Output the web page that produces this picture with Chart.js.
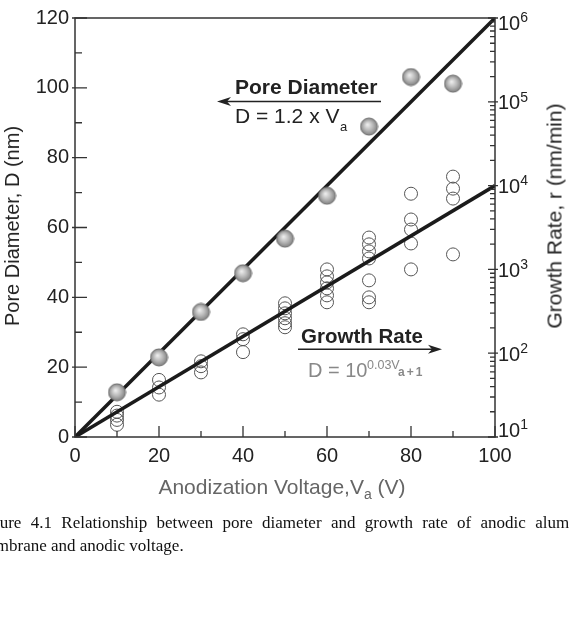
<!DOCTYPE html>
<html>
<head>
<meta charset="utf-8">
<script src="https://cdn.jsdelivr.net/npm/chart.js@4.4.0/dist/chart.umd.min.js"></script>
<style>
  body { margin: 0; background: #fff; width: 569px; height: 628px; overflow: hidden; position: relative;
         font-family: "Liberation Sans", Arial, sans-serif; color: #222; }
  #wrap { position: absolute; left: 0; top: 0; width: 569px; height: 500px; }
  .t { position: absolute; white-space: nowrap; line-height: 1; }
  .cap { position: absolute; white-space: nowrap; line-height: 1; font-family: "Liberation Serif", "Times New Roman", serif;
         font-size: 17px; color: #111; }
</style>
</head>
<body>
<div id="wrap"><canvas id="chart" width="569" height="500"></canvas></div>

<!-- axis titles -->
<div class="t" style="left:12px;top:226px;font-size:20px;transform:translate(-50%,-50%) rotate(-90deg);">Pore Diameter, D (nm)</div>
<div class="t" style="left:554px;top:216px;font-size:21px;transform:translate(-50%,-50%) rotate(-90deg);">Growth Rate, r (nm/min)</div>
<div class="t" style="left:282px;top:486px;font-size:21px;color:#666;transform:translate(-50%,-50%);">Anodization Voltage,V<span style="font-size:14px;position:relative;top:5px;">a</span> (V)</div>

<!-- annotations -->
<div class="t" style="left:235px;top:76px;font-size:21px;font-weight:bold;">Pore Diameter</div>
<div class="t" style="left:235px;top:105px;font-size:21px;">D = 1.2 x V</div>
<div class="t" style="left:340px;top:120px;font-size:13px;">a</div>
<div class="t" style="left:301px;top:326px;font-size:20.5px;font-weight:bold;">Growth Rate</div>
<div class="t" style="left:308px;top:360px;font-size:20px;color:#888;">D = 10</div>
<div class="t" style="left:367px;top:359px;font-size:12.5px;color:#888;">0.03V</div>
<div class="t" style="left:398px;top:366px;font-size:12px;color:#888;font-weight:bold;letter-spacing:2px;">a+1</div>
<svg style="position:absolute;left:0;top:0;" width="569" height="500">
  <g stroke="#222" stroke-width="1.6" fill="#222">
    <line x1="381" y1="101.5" x2="222" y2="101.5"/>
    <path d="M217 101.5 L231 97 L227 101.5 L231 106 Z" stroke="none"/>
    <line x1="298" y1="349.3" x2="437" y2="349.3"/>
    <path d="M442 349.3 L428 344.8 L432 349.3 L428 353.8 Z" stroke="none"/>
  </g>
</svg>

<!-- caption -->
<div class="cap" style="left:-23px;top:514px;width:613px;text-align:justify;text-align-last:justify;">Figure 4.1 Relationship between pore diameter and growth rate of anodic alumina</div>
<div class="cap" style="left:-25px;top:537px;">membrane and anodic voltage.</div>

<script>
// anodization voltage (V) and measured pore diameter (nm)
const volts = [10, 20, 30, 40, 50, 60, 70, 80, 90];
const poreDiameter = [12.8, 22.8, 35.8, 46.9, 56.8, 69.1, 88.9, 103.1, 101.2];

// growth rate samples (nm/min), one entry per open circle
const growthVolts = [10, 10, 10, 10,
                     20, 20, 20,
                     30, 30, 30,
                     40, 40, 40,
                     50, 50, 50, 50, 50, 50,
                     60, 60, 60, 60, 60, 60,
                     70, 70, 70, 70, 70, 70, 70,
                     80, 80, 80, 80, 80,
                     90, 90, 90, 90];
const growthRates = [20, 18, 16, 14,
                     48, 39, 32,
                     80, 70, 59,
                     168, 147, 103,
                     394, 343, 299, 261, 228, 204,
                     1000, 826, 700, 594, 490, 405,
                     2400, 1990, 1640, 1350, 740, 464, 405,
                     8000, 3940, 2990, 2040, 1000,
                     12800, 9200, 7000, 1510];

// fitted lines: D = 1.2 x Va and r = 10^(0.03Va + 1)
const fitVolts = [0, 100];
const fitDiameter = [0, 120];
const fitRate = [10, 10000];

// tick values
const xMajor = [0, 20, 40, 60, 80, 100];
const xMinor = [10, 30, 50, 70, 90];
const yMajor = [0, 20, 40, 60, 80, 100, 120];
const yMinor = [10, 30, 50, 70, 90, 110];
const rateDecades = [10, 100, 1000, 10000, 100000, 1000000];

const FONT = '"Liberation Sans", Arial, sans-serif';

// shaded sphere marker for the pore diameter points
const sphere = document.createElement('canvas');
sphere.width = 19; sphere.height = 19;
(function () {
  const c = sphere.getContext('2d');
  const g = c.createRadialGradient(8, 7.5, 0.5, 9.5, 9.5, 9);
  g.addColorStop(0, '#ececec');
  g.addColorStop(0.5, '#b8b8b8');
  g.addColorStop(1, '#7c7c7c');
  c.fillStyle = g;
  c.beginPath(); c.arc(9.5, 9.5, 8.5, 0, Math.PI * 2); c.fill();
  c.strokeStyle = '#6a6a6a'; c.lineWidth = 1; c.stroke();
})();

// frame, inward ticks and 10^n labels on the right axis
const framePlugin = {
  id: 'frame',
  afterDatasetsDraw(chart) {
    const { ctx, chartArea: a, scales: { x, y, y2 } } = chart;
    ctx.save();
    ctx.strokeStyle = '#333';
    ctx.lineWidth = 1.5;
    ctx.strokeRect(a.left, a.top, a.right - a.left, a.bottom - a.top);

    ctx.lineWidth = 1.3;
    ctx.beginPath();
    yMajor.forEach(v => { const p = y.getPixelForValue(v); ctx.moveTo(a.left - 3, p); ctx.lineTo(a.left + 12, p); });
    yMinor.forEach(v => { const p = y.getPixelForValue(v); ctx.moveTo(a.left, p); ctx.lineTo(a.left + 7, p); });
    xMajor.forEach(v => { const p = x.getPixelForValue(v); ctx.moveTo(p, a.bottom); ctx.lineTo(p, a.bottom - 11); });
    xMinor.forEach(v => { const p = x.getPixelForValue(v); ctx.moveTo(p, a.bottom); ctx.lineTo(p, a.bottom - 6); });
    rateDecades.forEach((d, i) => {
      const p = y2.getPixelForValue(d);
      ctx.moveTo(a.right + 3, p); ctx.lineTo(a.right - 7, p);
      if (i < rateDecades.length - 1) {
        for (let m = 2; m <= 9; m++) {
          const q = y2.getPixelForValue(d * m);
          ctx.moveTo(a.right, q); ctx.lineTo(a.right - 5, q);
        }
      }
    });
    ctx.stroke();

    ctx.fillStyle = '#222';
    ctx.textBaseline = 'middle';
    ctx.textAlign = 'left';
    rateDecades.forEach(d => {
      const p = y2.getPixelForValue(d);
      let cy = p + 2;
      if (d === rateDecades[rateDecades.length - 1]) cy = p + 6;
      if (d === rateDecades[0]) cy = p - 6;
      ctx.font = '20px ' + FONT;
      ctx.fillText('10', a.right + 3, cy);
      const w = ctx.measureText('10').width;
      ctx.font = '14px ' + FONT;
      ctx.fillText(String(Math.round(Math.log10(d))), a.right + 3 + w, cy - 6);
    });
    ctx.restore();
  }
};

new Chart(document.getElementById('chart'), {
  type: 'scatter',
  data: {
    datasets: [
      {
        label: 'Pore diameter',
        data: volts.map((v, i) => ({ x: v, y: poreDiameter[i] })),
        yAxisID: 'y',
        pointStyle: sphere,
        pointRadius: 9,
        order: 0
      },
      {
        label: 'D = 1.2 x Va',
        data: fitVolts.map((v, i) => ({ x: v, y: fitDiameter[i] })),
        yAxisID: 'y',
        showLine: true,
        borderColor: '#1b1b1b',
        borderWidth: 3.5,
        pointRadius: 0,
        order: 1
      },
      {
        label: 'Growth rate fit',
        data: fitVolts.map((v, i) => ({ x: v, y: fitRate[i] })),
        yAxisID: 'y2',
        showLine: true,
        borderColor: '#1b1b1b',
        borderWidth: 3.5,
        pointRadius: 0,
        order: 1
      },
      {
        label: 'Growth rate',
        data: growthVolts.map((v, i) => ({ x: v, y: growthRates[i] })),
        yAxisID: 'y2',
        pointRadius: 6.5,
        pointBorderColor: '#555',
        pointBorderWidth: 1,
        pointBackgroundColor: 'rgba(0,0,0,0)',
        order: 2
      }
    ]
  },
  options: {
    responsive: false,
    animation: false,
    layout: { padding: { top: 16, left: 0, right: 0, bottom: 0 } },
    plugins: { legend: { display: false }, tooltip: { enabled: false } },
    scales: {
      x: {
        type: 'linear', min: 0, max: 100,
        grid: { display: false, drawTicks: false }, border: { display: false },
        ticks: { stepSize: 20, maxRotation: 0, padding: 7, color: '#222', font: { size: 20, family: FONT } },
        afterFit(s) { s.height = 63; }
      },
      y: {
        type: 'linear', position: 'left', min: 0, max: 120,
        grid: { display: false, drawTicks: false }, border: { display: false },
        ticks: { stepSize: 20, padding: 6, color: '#222', font: { size: 20, family: FONT } },
        afterFit(s) { s.width = 75; }
      },
      y2: {
        type: 'logarithmic', position: 'right', min: 10, max: 1000000,
        grid: { display: false, drawTicks: false }, border: { display: false },
        ticks: { display: false },
        afterFit(s) { s.width = 74; }
      }
    }
  },
  plugins: [framePlugin]
});
</script>
</body>
</html>
